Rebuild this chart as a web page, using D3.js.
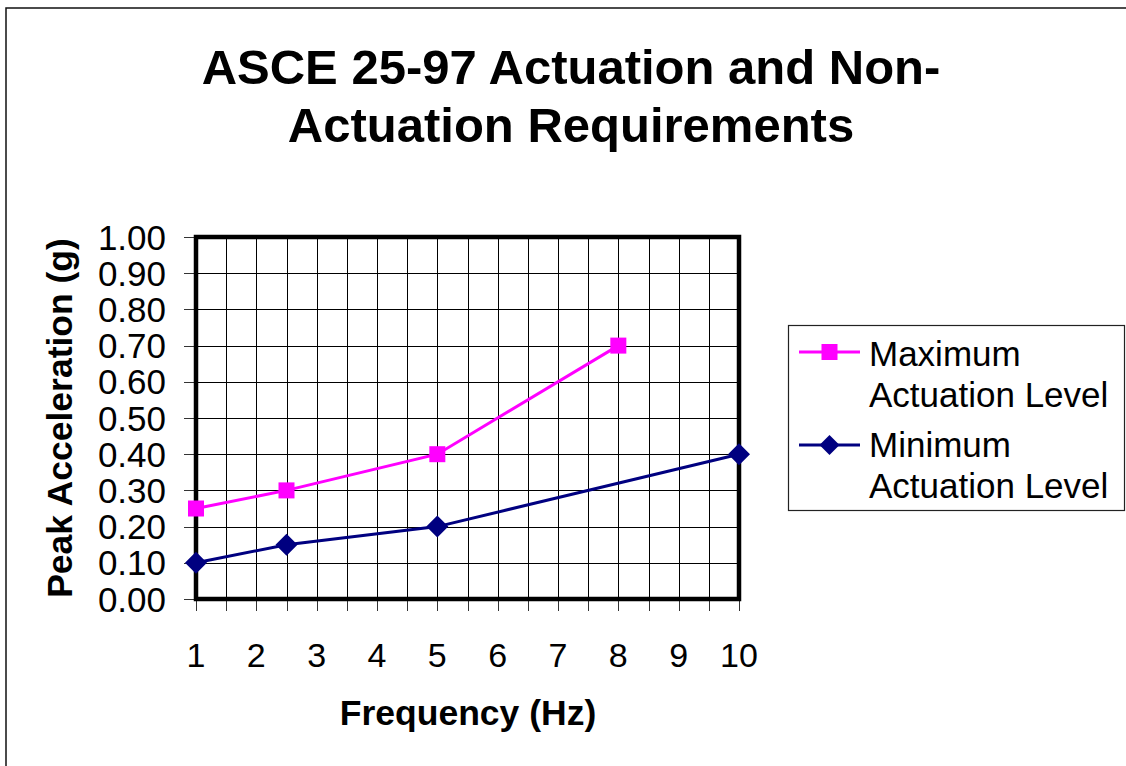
<!DOCTYPE html>
<html><head><meta charset="utf-8">
<script src="https://cdn.jsdelivr.net/npm/d3@7"></script>
<style>html,body{margin:0;padding:0;background:#fff;} svg{display:block;}</style>
</head><body>
<script>
const titleLines = ["ASCE 25-97 Actuation and Non-", "Actuation Requirements"];
const xTicks = [1,2,3,4,5,6,7,8,9,10];
const yTicks = [0,0.1,0.2,0.3,0.4,0.5,0.6,0.7,0.8,0.9,1.0];
const maxFreq = [1, 2.5, 5, 8];
const maxAccel = [0.25, 0.30, 0.40, 0.70];
const minFreq = [1, 2.5, 5, 10];
const minAccel = [0.10, 0.15, 0.20, 0.40];
const seriesNames = [["Maximum","Actuation Level"],["Minimum","Actuation Level"]];

const W = 1126, H = 766;
const svg = d3.select("body").append("svg").attr("width", W).attr("height", H);
const font = "'Liberation Sans', Arial, sans-serif";

// outer frame
svg.append("path").attr("d", `M6,${H} L6,8 L${W},8`).attr("fill","none").attr("stroke","#111").attr("stroke-width",1.5);

// title
svg.append("text").attr("x", 571).attr("text-anchor","middle").attr("font-family",font)
  .attr("font-weight","bold").attr("font-size",49).attr("fill","#000")
  .selectAll("tspan").data(titleLines).join("tspan")
  .attr("x",571).attr("y",(d,i)=>84+i*58).text(d=>d);

const x = d3.scaleLinear().domain([1,10]).range([196,739]);
const y = d3.scaleLinear().domain([0,1]).range([599,237]);

// gridlines
const g = svg.append("g");
const vgrid = d3.range(1.5, 10, 0.5);
g.selectAll(".vg").data(vgrid).join("line")
  .attr("x1",d=>Math.round(x(d))+0.5).attr("x2",d=>Math.round(x(d))+0.5)
  .attr("y1",y(1)).attr("y2",y(0)).attr("stroke","#000").attr("stroke-width",1);
g.selectAll(".hg").data(yTicks.slice(1,-1)).join("line")
  .attr("y1",d=>Math.round(y(d))+0.5).attr("y2",d=>Math.round(y(d))+0.5)
  .attr("x1",x(1)).attr("x2",x(10)).attr("stroke","#000").attr("stroke-width",1);

// y ticks
g.selectAll(".yt").data(yTicks).join("line")
  .attr("y1",d=>Math.round(y(d))+0.5).attr("y2",d=>Math.round(y(d))+0.5)
  .attr("x1",184).attr("x2",196).attr("stroke","#333").attr("stroke-width",1);
// x ticks
g.selectAll(".xt").data(d3.range(1,10.01,0.5)).join("line")
  .attr("x1",d=>Math.round(x(d))+0.5).attr("x2",d=>Math.round(x(d))+0.5)
  .attr("y1",599).attr("y2",611).attr("stroke","#333").attr("stroke-width",1);

// plot border
svg.append("rect").attr("x",x(1)).attr("y",y(1)).attr("width",x(10)-x(1)).attr("height",y(0)-y(1))
  .attr("fill","none").attr("stroke","#000").attr("stroke-width",4.5);

// tick labels
svg.append("g").selectAll("text").data(yTicks).join("text")
  .attr("x",166).attr("y",d=>y(d)+12.5).attr("text-anchor","end")
  .attr("font-family",font).attr("font-size",35).text(d=>d.toFixed(2));
svg.append("g").selectAll("text").data(xTicks).join("text")
  .attr("x",d=>x(d)).attr("y",667).attr("text-anchor","middle")
  .attr("font-family",font).attr("font-size",34).text(d=>d);

// axis titles
svg.append("text").attr("x",468).attr("y",725).attr("text-anchor","middle")
  .attr("font-family",font).attr("font-weight","bold").attr("font-size",35.5).text("Frequency (Hz)");
svg.append("text").attr("transform","translate(72,418) rotate(-90)").attr("text-anchor","middle")
  .attr("font-family",font).attr("font-weight","bold").attr("font-size",35.5).text("Peak Acceleration (g)");

// series
const line = d3.line().x(d=>x(d[0])).y(d=>y(d[1]));
const maxData = maxFreq.map((f,i)=>[f,maxAccel[i]]);
const minData = minFreq.map((f,i)=>[f,minAccel[i]]);
const pink = "#ff00ff", navy = "#000080";
svg.append("path").datum(maxData).attr("d",line).attr("fill","none").attr("stroke",pink).attr("stroke-width",3);
svg.append("path").datum(minData).attr("d",line).attr("fill","none").attr("stroke",navy).attr("stroke-width",3);
const sq = 16, dm = 11;
svg.append("g").selectAll("rect").data(maxData).join("rect")
  .attr("x",d=>x(d[0])-sq/2).attr("y",d=>y(d[1])-sq/2).attr("width",sq).attr("height",sq).attr("fill",pink);
svg.append("g").selectAll("path").data(minData).join("path")
  .attr("d",d=>{const cx=x(d[0]),cy=y(d[1]);return `M${cx},${cy-dm}L${cx+dm},${cy}L${cx},${cy+dm}L${cx-dm},${cy}Z`;})
  .attr("fill",navy);

// legend
const lg = svg.append("g");
lg.append("rect").attr("x",788.5).attr("y",325.5).attr("width",336).attr("height",185)
  .attr("fill","#fff").attr("stroke","#222").attr("stroke-width",1.2);
const legRows = [{c:pink, y:352, shape:"sq", names:seriesNames[0], ty:365.5},
                 {c:navy, y:445, shape:"dm", names:seriesNames[1], ty:456.5}];
legRows.forEach(r=>{
  lg.append("line").attr("x1",799).attr("x2",860).attr("y1",r.y).attr("y2",r.y).attr("stroke",r.c).attr("stroke-width",3);
  if(r.shape==="sq") lg.append("rect").attr("x",829.5-8).attr("y",r.y-8).attr("width",16).attr("height",16).attr("fill",r.c);
  else lg.append("path").attr("d",`M829.5,${r.y-10}L${839.5},${r.y}L829.5,${r.y+10}L819.5,${r.y}Z`).attr("fill",r.c);
  lg.append("text").attr("font-family",font).attr("font-size",35)
    .selectAll("tspan").data(r.names).join("tspan").attr("x",869).attr("y",(d,i)=>r.ty+i*41).text(d=>d);
});
</script>
</body></html>
